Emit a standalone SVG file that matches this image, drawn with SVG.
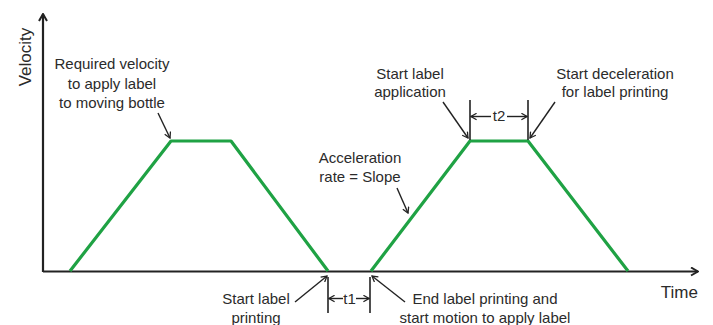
<svg xmlns="http://www.w3.org/2000/svg" width="713" height="325" viewBox="0 0 713 325">
<style>
text{font-family:"Liberation Sans",Arial,sans-serif;fill:#2b2b2b;font-size:15px;text-anchor:middle}
.ax{stroke:#222;stroke-width:2.2;fill:none}
.pf{stroke:#1fa244;stroke-width:3.2;fill:none;stroke-linejoin:round}
.ptr{stroke:#222;stroke-width:1.4;fill:none}
.tick{stroke:#222;stroke-width:1.6}
</style>
<defs>
<marker id="big" viewBox="0 0 10 10" refX="9" refY="5" markerWidth="10" markerHeight="10" markerUnits="userSpaceOnUse" orient="auto">
<path d="M2,1 L9,5 L2,9" fill="none" stroke="#222" stroke-width="2"/>
</marker>
<marker id="sm" viewBox="0 0 10 10" refX="9" refY="5" markerWidth="8" markerHeight="8" markerUnits="userSpaceOnUse" orient="auto">
<path d="M2,1 L9,5 L2,9" fill="none" stroke="#222" stroke-width="1.6"/>
</marker>
</defs>
<g id="axes">
<line class="ax" x1="43" y1="272" x2="43" y2="14" marker-end="url(#big)"/>
<line class="ax" x1="43" y1="271.5" x2="698" y2="271.5" marker-end="url(#big)"/>
<text x="0" y="0" transform="translate(31,57) rotate(-90)" style="font-size:17px">Velocity</text>
<text x="698" y="298" style="font-size:17px;text-anchor:end">Time</text>
</g>
<g id="profiles">
<polyline class="pf" points="70,271 171,141 231,141 328,271"/>
<polyline class="pf" points="371,271 470,141 528,141 628,271"/>
</g>
<g id="label-required">
<text x="112" y="69">Required velocity</text>
<text x="112" y="89">to apply label</text>
<text x="112" y="108">to moving bottle</text>
</g>
<g id="label-start-application">
<text x="410" y="79">Start label</text>
<text x="410" y="97">application</text>
</g>
<g id="label-start-decel">
<text x="615" y="79">Start deceleration</text>
<text x="615" y="97">for label printing</text>
</g>
<g id="label-accel">
<text x="360" y="163">Acceleration</text>
<text x="360" y="182">rate = Slope</text>
</g>
<g id="label-start-printing">
<text x="256" y="304">Start label</text>
<text x="256" y="323">printing</text>
</g>
<g id="label-end-printing">
<text x="485" y="304">End label printing and</text>
<text x="485" y="323">start motion to apply label</text>
</g>
<g id="t2">
<line class="tick" x1="470" y1="100" x2="470" y2="140"/>
<line class="tick" x1="528" y1="100" x2="528" y2="140"/>
<line class="ptr" x1="491" y1="116.5" x2="471" y2="116.5" marker-end="url(#sm)"/>
<line class="ptr" x1="507" y1="116.5" x2="527" y2="116.5" marker-end="url(#sm)"/>
<text x="499" y="121">t2</text>
</g>
<g id="t1">
<line class="tick" x1="328" y1="277" x2="328" y2="313"/>
<line class="tick" x1="370" y1="277" x2="370" y2="313"/>
<line class="ptr" x1="343" y1="298.5" x2="329" y2="298.5" marker-end="url(#sm)"/>
<line class="ptr" x1="356" y1="298.5" x2="369" y2="298.5" marker-end="url(#sm)"/>
<text x="349.5" y="304">t1</text>
</g>
<g id="connectors">
<line class="ptr" x1="158" y1="113" x2="170" y2="138" marker-end="url(#sm)"/>
<line class="ptr" x1="443" y1="102" x2="468" y2="138" marker-end="url(#sm)"/>
<line class="ptr" x1="555" y1="102" x2="530" y2="138" marker-end="url(#sm)"/>
<line class="ptr" x1="397" y1="188" x2="408" y2="213" marker-end="url(#sm)"/>
<line class="ptr" x1="295" y1="302" x2="327" y2="276" marker-end="url(#sm)"/>
<line class="ptr" x1="405" y1="302" x2="372" y2="276" marker-end="url(#sm)"/>
</g>
</svg>
